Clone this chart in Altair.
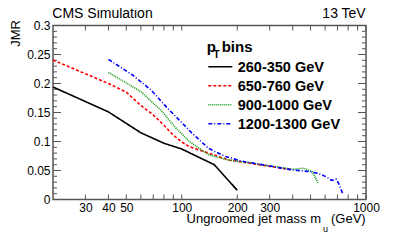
import altair as alt
import pandas as pd

# ---- data ----
series_names = ["260-350 GeV", "650-760 GeV", "900-1000 GeV", "1200-1300 GeV"]
series_colors = ["#000000", "#ff0000", "#119911", "#0000ff"]
series_dash = [[1, 0], [3, 2], [1, 1], [4, 2, 1, 2]]

m_260 = [20, 40, 60, 80, 100, 150, 200]
jmr_260 = [0.194, 0.151, 0.115, 0.097, 0.087, 0.060, 0.016]

m_650 = [20, 40, 50, 60, 70, 80, 90, 100, 110, 140, 180, 250, 400]
jmr_650 = [0.2405, 0.200, 0.185, 0.162, 0.146, 0.128, 0.111, 0.099, 0.091, 0.080, 0.068, 0.061, 0.051]

m_900 = [40, 60, 77, 93, 110, 140, 180, 250, 400, 460, 510, 550]
jmr_900 = [0.219, 0.186, 0.154, 0.123, 0.100, 0.077, 0.068, 0.062, 0.052, 0.054, 0.048, 0.028]

m_1200 = [40, 54, 68, 84, 99, 114, 140, 173, 213, 250, 400, 500, 550, 610, 650, 690, 710, 745]
jmr_1200 = [0.2417, 0.2147, 0.189, 0.157, 0.134, 0.114, 0.088, 0.074, 0.066, 0.062, 0.051,
            0.048, 0.045, 0.039, 0.033, 0.035, 0.028, 0.011]

x_labels = [30, 40, 50, 100, 200, 300, 1000]
x_ticks = [30, 40, 50, 60, 70, 80, 90, 100, 200, 300, 400, 500, 600, 700, 800, 900, 1000]
y_major = [0, 0.05, 0.1, 0.15, 0.2, 0.25, 0.3]
y_minor = [round(i * 0.01, 2) for i in range(1, 30) if i % 5 != 0]

# ---- layout ----
W, H = 313, 174
FONT = "Liberation Sans"

xs = alt.Scale(type="log", domain=[20, 1000], nice=False)
ys = alt.Scale(domain=[0, 0.3], nice=False, zero=False)
x_axis = alt.Axis(values=x_labels, format="d", tickSize=0, domain=False, grid=False,
                  labelPadding=3, labelFontSize=12, labelFont=FONT, labelColor="black",
                  labelOverlap=False, labelFlush=False, title=None)
y_axis = alt.Axis(values=y_major, format="~g", tickSize=0, domain=False, grid=False,
                  labelPadding=3, labelFontSize=12, labelFont=FONT, labelColor="black",
                  labelOverlap=False, labelFlush=False, title=None)


def X(field="m"):
    return alt.X(f"{field}:Q", scale=xs, axis=x_axis)


def Y(field="jmr"):
    return alt.Y(f"{field}:Q", scale=ys, axis=y_axis)


layers = []

# ticks (inside the frame on all four sides)
ytick_major = pd.DataFrame({"jmr": y_major})
ytick_minor = pd.DataFrame({"jmr": y_minor})
xtick_df = pd.DataFrame({"m": x_ticks})
for df, ln in [(ytick_major, 8), (ytick_minor, 4)]:
    layers.append(alt.Chart(df).mark_rule(color="#555", strokeWidth=1).encode(
        y=Y(), x=alt.value(0), x2=alt.value(ln)))
    layers.append(alt.Chart(df).mark_rule(color="#555", strokeWidth=1).encode(
        y=Y(), x=alt.value(W - ln), x2=alt.value(W)))
layers.append(alt.Chart(xtick_df).mark_rule(color="#555", strokeWidth=1).encode(
    x=X(), y=alt.value(H - 5), y2=alt.value(H)))
layers.append(alt.Chart(xtick_df).mark_rule(color="#555", strokeWidth=1).encode(
    x=X(), y=alt.value(0), y2=alt.value(5)))

# curves
all_m = [m_260, m_650, m_900, m_1200]
all_j = [jmr_260, jmr_650, jmr_900, jmr_1200]
for name, col, dash, mm, jj in zip(series_names, series_colors, series_dash, all_m, all_j):
    df = pd.DataFrame({"m": mm, "jmr": jj, "series": name})
    layers.append(alt.Chart(df).mark_line(color=col, strokeWidth=1.6, strokeDash=dash).encode(
        x=X(), y=Y()))


def txt(t, x, y, size, weight="normal", align="left", angle=0):
    kw = dict(font=FONT, fontSize=size, fontWeight=weight, align=align,
              baseline="alphabetic", color="black")
    if angle:
        kw["angle"] = angle
    return alt.Chart(pd.DataFrame({"t": [t]})).mark_text(**kw).encode(
        text="t:N", x=alt.value(x), y=alt.value(y))


# legend
leg_y0, leg_dy = 41.2, 19
for i, (name, col, dash) in enumerate(zip(series_names, series_colors, series_dash)):
    yy = leg_y0 + i * leg_dy
    layers.append(alt.Chart(pd.DataFrame({"t": [name]})).mark_rule(
        color=col, strokeWidth=1.6, strokeDash=dash).encode(
        x=alt.value(155.3), x2=alt.value(179.3), y=alt.value(yy)))
    layers.append(txt(name, 184.7, yy + 5.2, 14.5, "bold"))
layers.append(txt("p", 153.7, 26.2, 15, "bold"))
layers.append(txt("T", 160.5, 32.8, 10, "bold"))
layers.append(txt("bins", 168.7, 26.2, 15, "bold"))

# titles
layers.append(txt("CMS Simulation", -0.7, -7.3, 14))
layers.append(txt("13 TeV", 312.7, -7.3, 14, align="right"))
layers.append(txt("Ungroomed jet mass m", 268, 197.8, 13, align="right"))
layers.append(txt("u", 270, 206.5, 9))
layers.append(txt("(GeV)", 312.7, 197.8, 13, align="right"))
layers.append(txt("JMR", -33, -5.5, 13, align="right", angle=270))

chart = alt.layer(*layers).properties(
    width=W, height=H,
    autosize=alt.AutoSizeParams(type="none"),
    padding={"left": 45, "top": 17.5, "right": 25, "bottom": 33},
).configure_view(stroke="#555", strokeWidth=1.5)

chart.save("out.html", embed_options={"renderer": "svg", "actions": False})
